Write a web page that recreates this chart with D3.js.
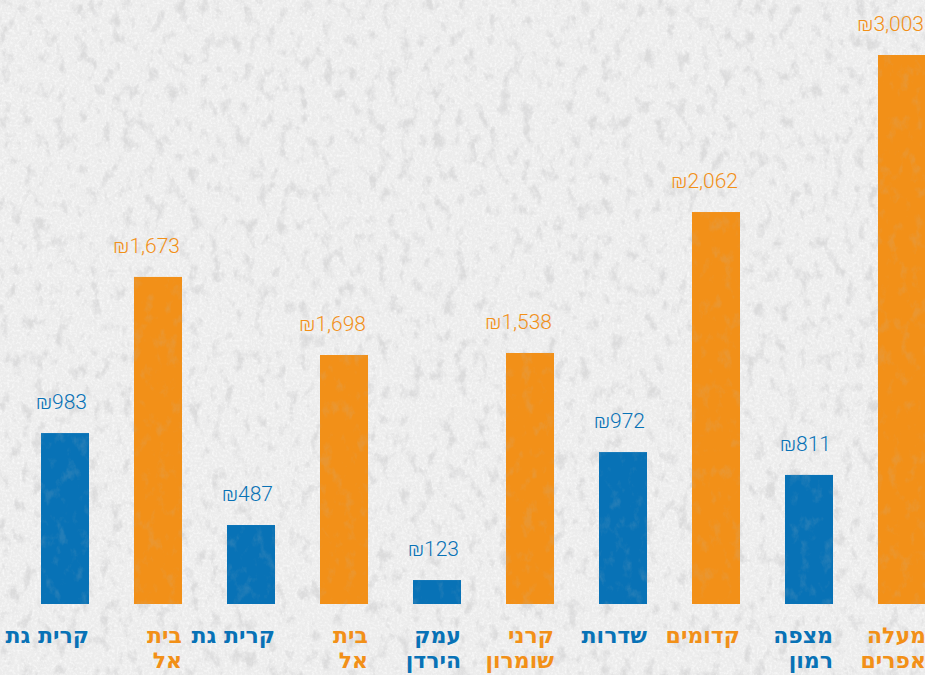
<!DOCTYPE html>
<html>
<head>
<meta charset="utf-8">
<script src="https://cdn.jsdelivr.net/npm/d3@7"></script>
<style>
  html, body { margin: 0; padding: 0; background: #efefef; overflow: hidden; }
  #chart { width: 925px; height: 675px; }
</style>
</head>
<body>
<div id="chart"></div>
<script>
// town names (split in two lines where the graphic breaks them)
let towns = [
    ["קרית גת"], ["בית", "אל"], ["קרית גת"], ["בית", "אל"], ["עמק", "הירדן"],
    ["קרני", "שומרון"], ["שדרות"], ["קדומים"], ["מצפה", "רמון"], ["מעלה", "אפרים"]
];
// amounts printed above the bars
let amounts = [983, 1673, 487, 1698, 123, 1538, 972, 2062, 811, 3003];
// bar lengths as drawn in the graphic, same units (the source does not scale them exactly)
let barLengths = [935, 1789, 432, 1362, 131, 1373, 831, 2144, 706, 3003];
// blue / orange group of every bar
let groups = ["b", "o", "b", "o", "b", "o", "b", "o", "b", "o"];

function drawChart() {
    let div_id = "#chart";
    let win_width = 925;
    let win_height = 675;

    let color = d3.scaleOrdinal().domain(["b", "o"]).range(["#0872b6", "#f29018"]);

    let svg = d3.select(div_id)
        .append("svg")
        .attr("width", win_width)
        .attr("height", win_height);

    // concrete texture
    let defs = svg.append("defs");
    let f = defs.append("filter").attr("id", "concrete")
        .attr("x", 0).attr("y", 0).attr("width", "100%").attr("height", "100%");
    f.append("feTurbulence")
        .attr("type", "fractalNoise")
        .attr("baseFrequency", "0.09 0.06")
        .attr("numOctaves", 5)
        .attr("seed", 7)
        .attr("result", "noise");
    f.append("feColorMatrix")
        .attr("in", "noise")
        .attr("type", "matrix")
        .attr("values", "0 0 0 0 0.5  0 0 0 0 0.5  0 0 0 0 0.51  4 0 0 0 -2.15");

    let f2 = defs.append("filter").attr("id", "grain")
        .attr("x", 0).attr("y", 0).attr("width", "100%").attr("height", "100%");
    f2.append("feTurbulence")
        .attr("type", "fractalNoise")
        .attr("baseFrequency", "0.4")
        .attr("numOctaves", 2)
        .attr("seed", 3)
        .attr("result", "noise");
    f2.append("feColorMatrix")
        .attr("in", "noise")
        .attr("type", "matrix")
        .attr("values", "0 0 0 0 1  0 0 0 0 1  0 0 0 0 1  -2.2 0 0 0 1.25");

    svg.append("rect")
        .attr("width", win_width).attr("height", win_height)
        .attr("fill", "#ececec");
    svg.append("rect")
        .attr("width", win_width).attr("height", win_height)
        .attr("filter", "url(#grain)")
        .attr("opacity", 0.7);
    svg.append("rect")
        .attr("width", win_width).attr("height", win_height)
        .attr("filter", "url(#concrete)")
        .attr("opacity", 0.35);

    let idx = d3.range(amounts.length);

    let x = d3.scaleBand()
        .domain(idx)
        .range([18.5, 948.5])
        .paddingInner(45 / 93)
        .paddingOuter(45 / 186);

    let y = d3.scaleLinear()
        .domain([0, 3003])
        .range([604, 55]);

    let fmt = d3.format(",");

    let g = svg.append("g");

    g.selectAll(".bar")
        .data(idx)
        .join("rect")
        .attr("class", "bar")
        .attr("x", d => x(d))
        .attr("y", d => y(barLengths[d]))
        .attr("width", x.bandwidth())
        .attr("height", d => y(0) - y(barLengths[d]))
        .attr("fill", d => color(groups[d]));

    // a bit of the texture over the bars
    g.selectAll(".barTex")
        .data(idx)
        .join("rect")
        .attr("x", d => x(d))
        .attr("y", d => y(barLengths[d]))
        .attr("width", x.bandwidth())
        .attr("height", d => y(0) - y(barLengths[d]))
        .attr("filter", "url(#concrete)")
        .attr("opacity", 0.15);

    g.selectAll(".amount")
        .data(idx)
        .join("text")
        .attr("class", "amount")
        .attr("x", d => x(d) + x.bandwidth() - 2)
        .attr("y", d => y(barLengths[d]) - 24)
        .attr("text-anchor", "end")
        .style("font-family", "Roboto, sans-serif")
        .style("font-size", "21px")
        .style("font-weight", 300)
        .attr("fill", d => color(groups[d]))
        .text(d => "₪" + fmt(amounts[d]));

    let names = g.selectAll(".town")
        .data(idx)
        .join("text")
        .attr("class", "town")
        .attr("text-anchor", "end")
        .style("font-family", "'DejaVu Sans', sans-serif")
        .style("font-size", "22px")
        .style("font-weight", "bold")
        .attr("fill", d => color(groups[d]));

    names.selectAll("tspan")
        .data(d => towns[d].map(t => [d, t]))
        .join("tspan")
        .attr("x", d => x(d[0]) + x.bandwidth())
        .attr("y", (d, i) => 643 + i * 25)
        .text(d => d[1]);
}

drawChart();
</script>
</body>
</html>
